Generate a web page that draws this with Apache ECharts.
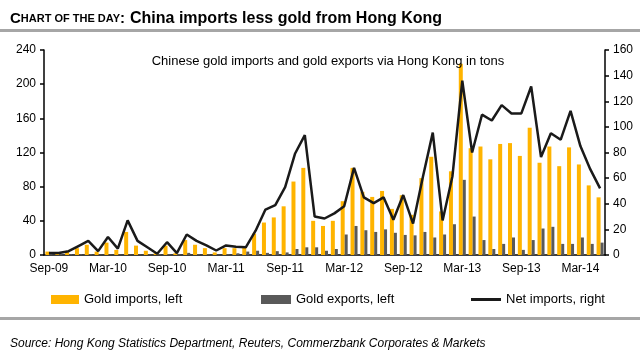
<!DOCTYPE html>
<html>
<head>
<meta charset="utf-8">
<script src="https://cdn.jsdelivr.net/npm/echarts@6/dist/echarts.min.js"></script>
<style>
  html, body { margin: 0; padding: 0; background: #fff; }
  #chart { width: 640px; height: 352px; }
</style>
</head>
<body>
<div id="chart"></div>
<script>
// Monthly data, Sep-09 .. May-14 (tons)
const months = [
  'Sep-09', 'Oct-09', 'Nov-09', 'Dec-09', 'Jan-10', 'Feb-10', 'Mar-10', 'Apr-10', 'May-10', 'Jun-10',
  'Jul-10', 'Aug-10', 'Sep-10', 'Oct-10', 'Nov-10', 'Dec-10', 'Jan-11', 'Feb-11', 'Mar-11', 'Apr-11',
  'May-11', 'Jun-11', 'Jul-11', 'Aug-11', 'Sep-11', 'Oct-11', 'Nov-11', 'Dec-11', 'Jan-12', 'Feb-12',
  'Mar-12', 'Apr-12', 'May-12', 'Jun-12', 'Jul-12', 'Aug-12', 'Sep-12', 'Oct-12', 'Nov-12', 'Dec-12',
  'Jan-13', 'Feb-13', 'Mar-13', 'Apr-13', 'May-13', 'Jun-13', 'Jul-13', 'Aug-13', 'Sep-13', 'Oct-13',
  'Nov-13', 'Dec-13', 'Jan-14', 'Feb-14', 'Mar-14', 'Apr-14', 'May-14'
];
const goldImports = [
  4, 3, 4, 8, 12, 4, 14.5, 6, 27, 11,
  5, 2, 11, 2, 17.5, 12, 8, 3, 8, 8,
  10.5, 25, 38, 44, 57, 86, 102, 40, 34, 40,
  63, 102, 74, 68, 75, 54, 70, 47, 90, 115,
  51, 98, 224, 125, 127, 112, 130, 131, 116, 149,
  108, 127, 104, 126, 106, 81.5, 67.5
];
const goldExports = [
  2, 1.5, 1, 1, 1, 0.5, 0.5, 0.5, 0.5, 0.5,
  0.5, 1, 1, 1, 2.5, 1, 1, 0.5, 1, 2,
  4, 5, 2.5, 4.5, 3, 7, 9, 9, 5, 7,
  24, 34, 29, 27, 30, 26, 23.5, 23, 27, 20.5,
  24, 36, 88, 45, 17.5, 7, 13, 20.5, 6, 17.5,
  31, 33, 13, 13, 20.5, 13, 14.5
];
const netImports = [
  1.5, 1.5, 3, 7, 11, 3, 14, 5, 27, 11,
  6, 1, 10, 1.5, 16, 11, 7.5, 3.5, 7.5, 6.5,
  6, 19, 35.5, 39, 53, 79, 93.5, 30, 28.5, 32.5,
  38, 68, 45, 40.5, 45, 27.5, 46.8, 24.5, 61, 95.5,
  27, 61.5, 136, 80, 109.5, 105, 117, 110.5, 110.5, 131.5,
  76.5, 95, 90, 112.5, 85, 67, 52
];
const leftTicks = [0, 240, 40];   // min, max, step
const rightTicks = [0, 160, 20];

const colorImports = '#FFB400';
const colorExports = '#595959';
const colorNet = '#1a1a1a';
const font = '"Liberation Sans", Arial, sans-serif';

const chart = echarts.init(document.getElementById('chart'));

const axisText = { color: '#000', fontFamily: font, fontSize: 12 };

const option = {
  animation: false,
  backgroundColor: '#fff',
  textStyle: { fontFamily: font },
  title: [
    {
      left: 5,
      top: 5,
      text: '{a|C}{b|HART OF THE DAY}{a|:} {c|China imports less gold from Hong Kong}',
      textStyle: {
        rich: {
          a: { fontFamily: font, fontWeight: 'bold', fontSize: 15, color: '#000' },
          b: { fontFamily: font, fontWeight: 'bold', fontSize: 11, color: '#000' },
          c: { fontFamily: font, fontWeight: 'bold', fontSize: 16, color: '#000' }
        }
      }
    },
    {
      left: 323,
      top: 50,
      textAlign: 'center',
      text: 'Chinese gold imports and gold exports via Hong Kong in tons',
      textStyle: { fontFamily: font, fontWeight: 'normal', fontSize: 13, color: '#000' }
    },
    {
      left: 5,
      top: 333,
      text: 'Source: Hong Kong Statistics Department, Reuters, Commerzbank Corporates & Markets',
      textStyle: { fontFamily: font, fontWeight: 'normal', fontStyle: 'italic', fontSize: 12, color: '#000' }
    }
  ],
  graphic: [
    { type: 'rect', shape: { x: 0, y: 29, width: 640, height: 3 }, style: { fill: '#a6a6a6' }, silent: true },
    { type: 'rect', shape: { x: 0, y: 317, width: 640, height: 3 }, style: { fill: '#a6a6a6' }, silent: true }
  ],
  legend: [
    {
      left: 46, top: 288, itemWidth: 28, itemHeight: 9, icon: 'rect',
      textStyle: { fontFamily: font, fontSize: 13, color: '#000' },
      data: ['Gold imports, left']
    },
    {
      left: 256, top: 288, itemWidth: 30, itemHeight: 9, icon: 'rect',
      textStyle: { fontFamily: font, fontSize: 13, color: '#000' },
      data: ['Gold exports, left']
    },
    {
      left: 466, top: 288, itemWidth: 30, itemHeight: 3, icon: 'rect',
      textStyle: { fontFamily: font, fontSize: 13, color: '#000' },
      data: ['Net imports, right']
    }
  ],
  grid: { left: 44, right: 35, top: 50, bottom: 97 },
  xAxis: {
    type: 'category',
    data: months,
    boundaryGap: true,
    axisLine: { lineStyle: { color: '#000', width: 1.5 } },
    axisTick: { interval: 5, length: 4, lineStyle: { color: '#000', width: 1.5 } },
    axisLabel: Object.assign({ interval: 5, margin: 8 }, axisText),
    splitLine: { show: false }
  },
  yAxis: [
    {
      type: 'value',
      min: leftTicks[0], max: leftTicks[1], interval: leftTicks[2],
      axisLine: { show: true, lineStyle: { color: '#000', width: 1.5 } },
      axisTick: { show: true, length: 4, lineStyle: { color: '#000', width: 1.5 } },
      axisLabel: Object.assign({ margin: 8 }, axisText),
      splitLine: { show: false }
    },
    {
      type: 'value',
      position: 'right',
      min: rightTicks[0], max: rightTicks[1], interval: rightTicks[2],
      axisLine: { show: true, lineStyle: { color: '#000', width: 1.5 } },
      axisTick: { show: true, length: 4, lineStyle: { color: '#000', width: 1.5 } },
      axisLabel: Object.assign({ margin: 8 }, axisText),
      splitLine: { show: false }
    }
  ],
  series: [
    {
      name: 'Gold imports, left',
      type: 'bar',
      yAxisIndex: 0,
      barWidth: 4,
      barGap: '0%',
      itemStyle: { color: colorImports },
      data: goldImports,
      z: 2
    },
    {
      name: 'Gold exports, left',
      type: 'bar',
      yAxisIndex: 0,
      barWidth: 3,
      barGap: '0%',
      itemStyle: { color: colorExports },
      data: goldExports,
      z: 2
    },
    {
      name: 'Net imports, right',
      type: 'line',
      yAxisIndex: 1,
      showSymbol: false,
      symbol: 'none',
      lineStyle: { color: colorNet, width: 2.5 },
      itemStyle: { color: colorNet },
      data: netImports,
      z: 3
    }
  ]
};

chart.setOption(option);
</script>
</body>
</html>
